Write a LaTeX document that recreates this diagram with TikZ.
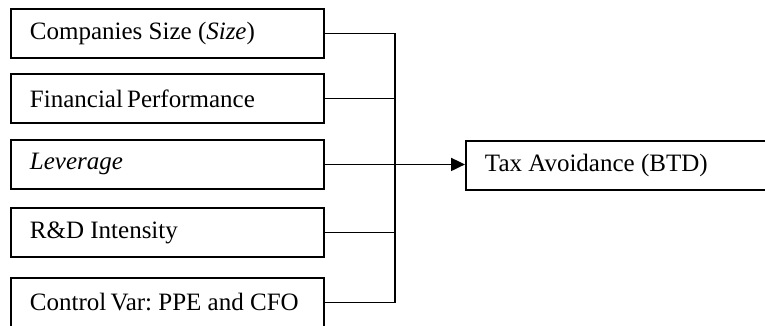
\documentclass[tikz,border=0pt]{standalone}
\usepackage{fontspec}
\setmainfont{Liberation Serif}
\usepackage{tikz}
\usetikzlibrary{arrows.meta, positioning, calc}

\tikzset{
  varbox/.style={draw, line width=1.9pt, rectangle, anchor=north west,
    minimum width=313pt, minimum height=49pt, inner xsep=19pt,
    execute at begin node={\hbox to 275pt\bgroup},
    execute at end node={\hss\egroup},
    font=\fontsize{25}{30}\selectfont\frenchspacing},
  link/.style={line width=1.9pt}
}

\begin{document}
\begin{tikzpicture}[x=1pt,y=-1pt]

            % Bingkai gambar
            \useasboundingbox (0,0) rectangle (765,325);
            \clip (0,0) rectangle (765,325);

            % Kotak variabel independen
            \node[varbox] (size) at (10,8) {Companies Size (\textit{Size})};
            \node[varbox] (perf) at (10,73) {Financial\,Performance};
            \node[varbox] (lev) at (10,139) {\textit{Leverage}};
            \node[varbox] (rnd) at (10,207) {R\&D Intensity};
            \node[varbox] (ctrl) at (10,277) {Control\,Var: PPE and CFO};

            % Kotak variabel dependen
            \node[varbox] (btd) at (465,140) {Tax Avoidance (BTD)};

            % Garis penghubung
            \coordinate (bus) at (395,0);
            \draw[link] (size.east) -| (ctrl.east -| bus) -- (ctrl.east);
            \draw[link] (perf.east) -- (perf.east -| bus);
            \draw[link] (rnd.east) -- (rnd.east -| bus);
            \draw[link,-{Triangle[length=14pt,width=13pt]}] (lev.east) -- (lev.east -| btd.west);

\end{tikzpicture}
\end{document}
